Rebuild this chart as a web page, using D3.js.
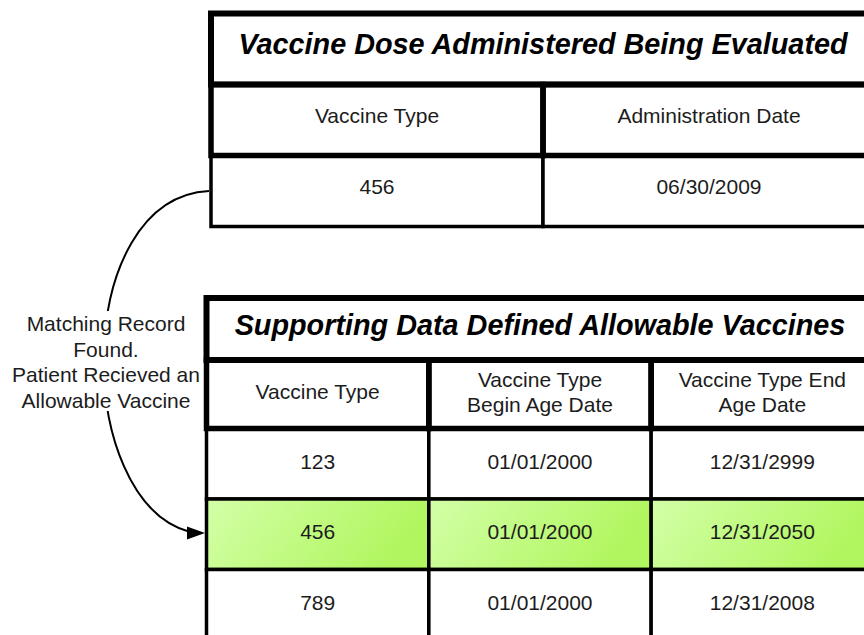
<!DOCTYPE html>
<html>
<head>
<meta charset="utf-8">
<script src="https://cdn.jsdelivr.net/npm/d3@7"></script>
<style>
  html, body { margin: 0; padding: 0; background: #fff; }
  svg { display: block; }
</style>
</head>
<body>
<div id="chart"></div>
<script>
// ---- Data ----
const topTitle = "Vaccine Dose Administered Being Evaluated";
const topHeaders = [["Vaccine Type"], ["Administration Date"]];
const topRows = [["456", "06/30/2009"]];

const bottomTitle = "Supporting Data Defined Allowable Vaccines";
const bottomHeaders = [["Vaccine Type"], ["Vaccine Type", "Begin Age Date"], ["Vaccine Type End", "Age Date"]];
const bottomRows = [
  ["123", "01/01/2000", "12/31/2999"],
  ["456", "01/01/2000", "12/31/2050"],
  ["789", "01/01/2000", "12/31/2008"]
];
const matchedRowIndex = 1;
const annotationLines = ["Matching Record", "Found.", "Patient Recieved an", "Allowable Vaccine"];

// ---- Setup ----
const W = 864, H = 635;
const FONT = "'Liberation Sans', Arial, Helvetica, sans-serif";
const svg = d3.select("#chart").append("svg").attr("width", W).attr("height", H);
svg.append("rect").attr("width", W).attr("height", H).attr("fill", "#fff");

const defs = svg.append("defs");
const grad = defs.append("linearGradient").attr("id", "greenGrad")
  .attr("x1", "0").attr("y1", "0").attr("x2", "1").attr("y2", "0.25");
grad.append("stop").attr("offset", "0%").attr("stop-color", "#d3ffa8");
grad.append("stop").attr("offset", "100%").attr("stop-color", "#b0f65e");

function drawTable(cfg) {
  const g = svg.append("g");
  const nCols = cfg.headers.length;
  const x = d3.scaleBand().domain(d3.range(nCols)).range(cfg.xRange);
  const y = d3.scaleBand().domain(d3.range(cfg.rows.length)).range(cfg.dataRange);

  // data cells
  const rowG = g.selectAll("g.row").data(cfg.rows).join("g").attr("class", "row");
  rowG.each(function(row, ri) {
    const rg = d3.select(this);
    rg.selectAll("rect").data(row).join("rect")
      .attr("x", (d, ci) => x(ci))
      .attr("y", y(ri))
      .attr("width", x.bandwidth())
      .attr("height", y.bandwidth())
      .attr("fill", ri === cfg.highlight ? "url(#greenGrad)" : "#fff")
      .attr("stroke", "#000")
      .attr("stroke-width", 3.5);
    rg.selectAll("text").data(row).join("text")
      .attr("x", (d, ci) => x(ci) + x.bandwidth() / 2)
      .attr("y", y(ri) + y.bandwidth() / 2 + 5 + cfg.dataOffset)
      .attr("text-anchor", "middle")
      .attr("font-family", FONT)
      .attr("font-size", 21)
      .attr("fill", "#1c1c1c")
      .text(d => d);
  });

  // header cells
  const [hy0, hy1] = cfg.headerRange;
  g.selectAll("rect.hdr").data(cfg.headers).join("rect").attr("class", "hdr")
    .attr("x", (d, ci) => x(ci)).attr("y", hy0)
    .attr("width", x.bandwidth()).attr("height", hy1 - hy0)
    .attr("fill", "none").attr("stroke", "#000").attr("stroke-width", 5.5);
  g.selectAll("text.hdr").data(cfg.headers).join("text").attr("class", "hdr")
    .attr("text-anchor", "middle")
    .attr("font-family", FONT).attr("font-size", 21).attr("fill", "#1c1c1c")
    .each(function(lines, ci) {
      const t = d3.select(this);
      const cx = x(ci) + x.bandwidth() / 2;
      const cy = (hy0 + hy1) / 2 + 5 + cfg.headerOffset;
      const lh = 25;
      lines.forEach((ln, li) => {
        t.append("tspan").attr("x", cx)
          .attr("y", cy + (li - (lines.length - 1) / 2) * lh)
          .text(ln);
      });
    });

  // title cell
  const [ty0, ty1] = cfg.titleRange;
  g.append("rect")
    .attr("x", cfg.xRange[0]).attr("y", ty0)
    .attr("width", cfg.xRange[1] - cfg.xRange[0]).attr("height", ty1 - ty0)
    .attr("fill", "none").attr("stroke", "#000").attr("stroke-width", 6);
  g.append("text")
    .attr("x", (cfg.xRange[0] + cfg.xRange[1]) / 2)
    .attr("y", cfg.titleBaseline)
    .attr("text-anchor", "middle")
    .attr("font-family", FONT).attr("font-size", 28.8)
    .attr("font-weight", "bold").attr("font-style", "italic")
    .attr("fill", "#000")
    .text(cfg.title);
}

// ---- Connector arrow ----
svg.append("path")
  .attr("d", "M209,191 C72,198 72,500 190,532")
  .attr("fill", "none").attr("stroke", "#000").attr("stroke-width", 2);
svg.append("path")
  .attr("d", "M187,526.5 L205,533 L187,539.5 Z")
  .attr("fill", "#000");

// annotation label with white background
svg.append("rect").attr("x", 6).attr("y", 311).attr("width", 196).attr("height", 100).attr("fill", "#fff");
const ann = svg.append("text")
  .attr("text-anchor", "middle")
  .attr("font-family", FONT).attr("font-size", 21).attr("fill", "#1c1c1c");
annotationLines.forEach((ln, i) => {
  ann.append("tspan").attr("x", 106).attr("y", 331 + i * 25.6).text(ln);
});

drawTable({
  title: topTitle, headers: topHeaders, rows: topRows,
  xRange: [211, 875],
  titleRange: [13.5, 84.5], headerRange: [84.5, 155.5], dataRange: [155.5, 226.5],
  titleBaseline: 54, highlight: -1, headerOffset: -2, dataOffset: -2
});

drawTable({
  title: bottomTitle, headers: bottomHeaders, rows: bottomRows,
  xRange: [206.5, 873.5],
  titleRange: [298, 360], headerRange: [360, 428.5], dataRange: [428.5, 640],
  titleBaseline: 335, highlight: matchedRowIndex, headerOffset: 0, dataOffset: 0
});
</script>
</body>
</html>
